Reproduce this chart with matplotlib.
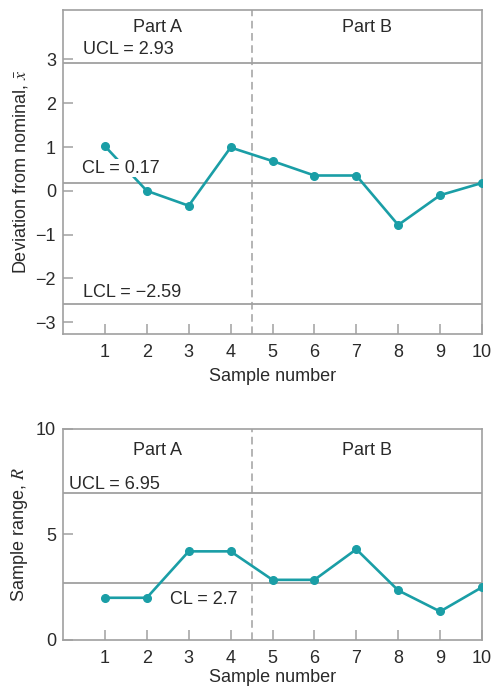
import matplotlib
matplotlib.use("Agg")
import matplotlib.pyplot as plt

# ---- data ----
samples = [1, 2, 3, 4, 5, 6, 7, 8, 9, 10]
xbar_dev = [1.02, 0.0, -0.34, 0.99, 0.68, 0.35, 0.35, -0.78, -0.10, 0.18]
ranges = [2.0, 2.0, 4.2, 4.2, 2.85, 2.85, 4.3, 2.35, 1.35, 2.5]
xbar_ucl, xbar_cl, xbar_lcl = 2.93, 0.17, -2.59
r_ucl, r_cl = 6.95, 2.7
part_split = 4.5
part_labels = ["Part A", "Part B"]
xbar_yticks = [-3, -2, -1, 0, 1, 2, 3]
r_yticks = [0, 5, 10]

plt.rcParams['font.family'] = ['Liberation Sans', 'DejaVu Sans']
plt.rcParams['mathtext.fontset'] = 'stix'

TEAL = '#1a9ea6'
GRAY = '#a0a0a0'
TXT = '#2a2a2a'
FS = 13

fig = plt.figure(figsize=(4.91, 6.88), dpi=100)
ax1 = fig.add_axes([0.1283, 0.5145, 0.8534, 0.471])
ax2 = fig.add_axes([0.1283, 0.0698, 0.8534, 0.3067])


def style(ax, lp):
    for s in ax.spines.values():
        s.set_color(GRAY)
        s.set_linewidth(1.2)
    ax.tick_params(direction='in', length=7, width=1.1, color=GRAY,
                   labelsize=FS, labelcolor=TXT, pad=7)
    ax.set_xlim(0, 10)
    ax.set_xticks(samples)
    ax.set_xlabel("Sample number", fontsize=FS, color=TXT, labelpad=lp)
    ax.axvline(part_split, color=GRAY, lw=1.1, ls=(0, (5, 3)), zorder=1)


# ---- x-bar chart ----
style(ax1, 5)
ax1.set_ylim(-3.27, 4.13)
ax1.set_yticks(xbar_yticks)
ax1.set_yticklabels(['\u22123', '\u22122', '\u22121', '0', '1', '2', '3'])
ax1.tick_params(axis='y', pad=5)
for v in (xbar_ucl, xbar_cl, xbar_lcl):
    ax1.axhline(v, color=GRAY, lw=1.3, zorder=1)
ax1.plot(samples, xbar_dev, color=TEAL, lw=1.9, marker='o', ms=5.5, zorder=3)
ax1.text(2.25, 3.74, part_labels[0], ha='center', va='center', fontsize=FS, color=TXT)
ax1.text(7.25, 3.74, part_labels[1], ha='center', va='center', fontsize=FS, color=TXT)
ax1.text(0.47, 3.23, f"UCL = {xbar_ucl}", ha='left', va='center', fontsize=FS, color=TXT)
ax1.text(0.45, 0.52, f"CL = {xbar_cl}", ha='left', va='center', fontsize=FS, color=TXT,
         zorder=4, bbox=dict(facecolor='white', edgecolor='none', pad=0.5))
ax1.text(0.47, -2.33, f"LCL = \u2212{abs(xbar_lcl)}", ha='left', va='center', fontsize=FS, color=TXT)
ax1.set_ylabel(r"Deviation from nominal, $\bar{x}$", fontsize=FS, color=TXT, labelpad=4)

# ---- R chart ----
style(ax2, 1.5)
ax2.set_ylim(0, 10)
ax2.set_yticks(r_yticks)
ax2.tick_params(axis='y', pad=5)
for v in (r_ucl, r_cl):
    ax2.axhline(v, color=GRAY, lw=1.3, zorder=1)
ax2.plot(samples, ranges, color=TEAL, lw=1.9, marker='o', ms=5.5, zorder=3)
ax2.text(2.25, 8.96, part_labels[0], ha='center', va='center', fontsize=FS, color=TXT)
ax2.text(7.25, 8.96, part_labels[1], ha='center', va='center', fontsize=FS, color=TXT)
ax2.text(0.15, 7.35, f"UCL = {r_ucl}", ha='left', va='center', fontsize=FS, color=TXT)
ax2.text(2.55, 1.94, f"CL = {r_cl}", ha='left', va='center', fontsize=FS, color=TXT)
ax2.set_ylabel(r"Sample range, $R$", fontsize=FS, color=TXT, labelpad=4)

fig.savefig("out.png", dpi=100)
